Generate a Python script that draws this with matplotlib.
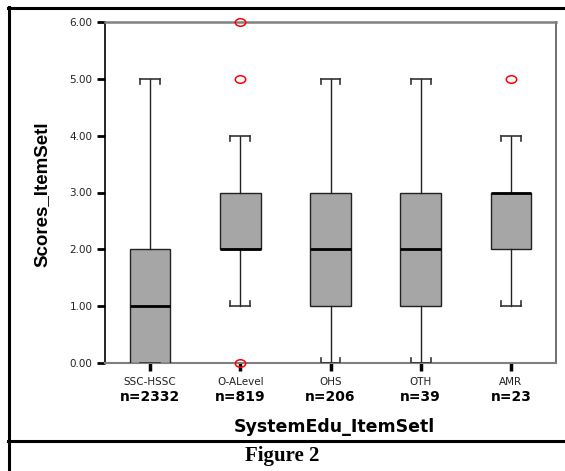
import matplotlib
matplotlib.use('Agg')
import matplotlib.pyplot as plt
from matplotlib.lines import Line2D
from matplotlib.path import Path
from matplotlib.transforms import Affine2D

cats = ['SSC-HSSC', 'O-ALevel', 'OHS', 'OTH', 'AMR']
counts = [2332, 819, 206, 39, 23]
q1 = [0, 2, 1, 1, 2]
med = [1, 2, 2, 2, 3]
q3 = [2, 3, 3, 3, 3]
whislo = [0, 1, 0, 0, 1]
whishi = [5, 4, 5, 5, 4]
outliers = [[], [0, 5, 6], [], [], [5]]
yticks = [0, 1, 2, 3, 4, 5, 6]

W, H = 565, 471
fig = plt.figure(figsize=(W / 100, H / 100), dpi=100)

# axes placed by pixel box of the reference
x0, x1, y0, y1 = 105, 556, 22, 363
ax = fig.add_axes([x0 / W, 1 - y1 / H, (x1 - x0) / W, (y1 - y0) / H])

stats = []
for i in range(len(cats)):
    stats.append(dict(med=med[i], q1=q1[i], q3=q3[i], whislo=whislo[i],
                      whishi=whishi[i], fliers=outliers[i]))

# flattened circle like the SPSS outlier marker
oval = Path.unit_circle().transformed(Affine2D().scale(1.0, 0.72))

capw = 0.22
pos = list(range(len(cats)))
bp = ax.bxp(stats, positions=pos, widths=0.45, patch_artist=True,
            capwidths=capw,
            boxprops=dict(facecolor='#a6a6a6', edgecolor='#222222', linewidth=1.0),
            medianprops=dict(color='black', linewidth=2.0),
            whiskerprops=dict(color='#222222', linewidth=1.0),
            capprops=dict(color='#333333', linewidth=1.2),
            flierprops=dict(marker=oval, markerfacecolor='none', markeredgecolor='red',
                            markersize=7.5, markeredgewidth=1.1, linestyle='none'),
            zorder=3)
for f in bp['fliers']:
    f.set_clip_on(False)
    f.set_zorder(5)

# small bracket ticks on the whisker caps
tk = 0.09
for i, p in enumerate(pos):
    for dx in (-capw / 2, capw / 2):
        ax.plot([p + dx, p + dx], [whishi[i], whishi[i] - tk], color='#333333', lw=1.2, zorder=2)
        ax.plot([p + dx, p + dx], [whislo[i], whislo[i] + tk], color='#333333', lw=1.2, zorder=2)

ax.set_xlim(-0.5, len(cats) - 0.5)
ax.set_ylim(0, 6)
ax.set_yticks(yticks)
ax.set_yticklabels(['%.2f' % v for v in yticks], fontsize=7.5, family='DejaVu Sans',
                   color='#222222')
ax.set_xticks(pos)
ax.set_xticklabels(cats, fontsize=7.5, family='DejaVu Sans', color='#222222')
ax.tick_params(axis='y', length=6, width=2, color='black', pad=3)
ax.tick_params(axis='x', length=6, width=2.5, color='black', pad=4)

ax.spines['top'].set_color('#808080')
ax.spines['top'].set_linewidth(1.8)
ax.spines['right'].set_color('#555555')
ax.spines['right'].set_linewidth(1.2)
ax.spines['bottom'].set_color('#808080')
ax.spines['bottom'].set_linewidth(1.5)
ax.spines['left'].set_color('black')
ax.spines['left'].set_linewidth(1.2)

for p, n in zip(pos, counts):
    ax.text(p, -(397 - y1) / (y1 - y0), 'n=%d' % n, transform=ax.get_xaxis_transform(),
            ha='center', va='center', fontsize=10, fontweight='bold',
            family='DejaVu Sans')

fig.text(334 / W, 1 - 427 / H, 'SystemEdu_ItemSetl', ha='center', va='center',
         fontsize=12.5, fontweight='bold', family='DejaVu Sans')
fig.text(42 / W, 1 - 194 / H, 'Scores_ItemSetl', ha='center', va='center',
         rotation=90, fontsize=13.5, fontweight='bold', family='Liberation Sans')
fig.text(282 / W, 1 - 456 / H, 'Figure 2', ha='center', va='center',
         fontsize=15, fontweight='bold', family='Liberation Serif')

# table border around the figure
def hline(y, xa, xb, lw=2.2):
    fig.add_artist(Line2D([xa / W, xb / W], [1 - y / H, 1 - y / H], color='black', lw=lw,
                          transform=fig.transFigure))

def vline(x, ya, yb, lw=2.2):
    fig.add_artist(Line2D([x / W, x / W], [1 - ya / H, 1 - yb / H], color='black', lw=lw,
                          transform=fig.transFigure))

hline(7.5, 8, W)
hline(441, 8, W)
vline(8.5, 7, H)

fig.savefig('out.png', dpi=100)
